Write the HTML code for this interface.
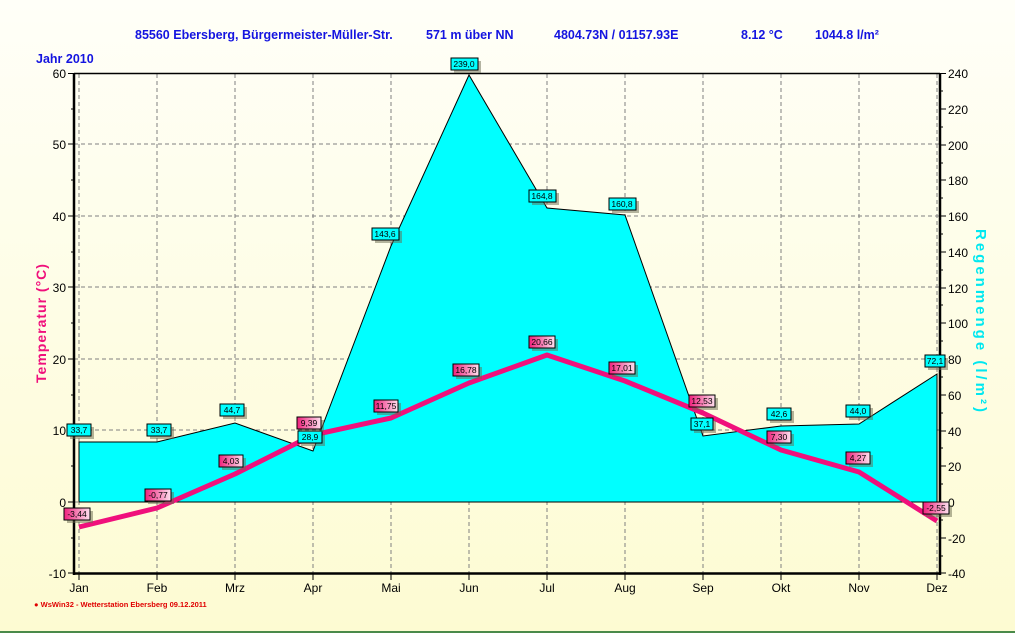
<!DOCTYPE html>
<html><head><meta charset="utf-8"><style>
html,body{margin:0;padding:0;}
body{width:1015px;height:633px;overflow:hidden;font-family:"Liberation Sans",sans-serif;}
</style></head><body>
<svg width="1015" height="633" xmlns="http://www.w3.org/2000/svg" font-family="Liberation Sans, sans-serif">
<defs>
<linearGradient id="bg" x1="0" y1="0" x2="0" y2="1"><stop offset="0" stop-color="#fffff8"/><stop offset="1" stop-color="#fdfbd2"/></linearGradient>
<linearGradient id="pk" x1="0" y1="0" x2="1" y2="0"><stop offset="0" stop-color="#f0207c"/><stop offset="1" stop-color="#fde0ee"/></linearGradient>
</defs>
<rect width="1015" height="633" fill="url(#bg)"/>
<rect x="0" y="631" width="1015" height="2" fill="#4a8a4a"/>
<g font-weight="bold" fill="#1414e0" font-size="12.5">
<text x="135" y="39">85560 Ebersberg, Bürgermeister-Müller-Str.</text>
<text x="426" y="39">571 m über NN</text>
<text x="554" y="39">4804.73N / 01157.93E</text>
<text x="741" y="39">8.12 °C</text>
<text x="815" y="39">1044.8 l/m²</text>
<text x="36" y="63">Jahr  2010</text>
</g>
<g stroke="#808080" stroke-dasharray="4,3" stroke-width="1">
<line x1="74" y1="144" x2="940" y2="144"/><line x1="74" y1="216" x2="940" y2="216"/>
<line x1="74" y1="287" x2="940" y2="287"/><line x1="74" y1="359" x2="940" y2="359"/>
<line x1="74" y1="430" x2="940" y2="430"/><line x1="74" y1="502" x2="940" y2="502"/>
<line x1="79" y1="74" x2="79" y2="580"/><line x1="157" y1="74" x2="157" y2="580"/><line x1="235" y1="74" x2="235" y2="580"/><line x1="313" y1="74" x2="313" y2="580"/><line x1="391" y1="74" x2="391" y2="580"/><line x1="469" y1="74" x2="469" y2="580"/><line x1="547" y1="74" x2="547" y2="580"/><line x1="625" y1="74" x2="625" y2="580"/><line x1="703" y1="74" x2="703" y2="580"/><line x1="781" y1="74" x2="781" y2="580"/><line x1="859" y1="74" x2="859" y2="580"/><line x1="937" y1="74" x2="937" y2="580"/>
</g>
<polygon points="79,502 79,442 157,442 235,423 313,451 391,246 469,75 547,208 625,215 703,436 781,426 859,424 937,374 937,502" fill="#00ffff" stroke="#000" stroke-width="1"/>
<g stroke="#000">
<line x1="74" y1="73.5" x2="940" y2="73.5" stroke-width="1.5"/>
<line x1="74" y1="573.5" x2="940" y2="573.5" stroke-width="2.5"/>
<line x1="74" y1="73" x2="74" y2="575" stroke-width="2.5"/>
<line x1="940" y1="73" x2="940" y2="575" stroke-width="2.5"/>
</g>
<g stroke="#000" stroke-width="1">
<path d="M68 73.5h6M68 144h6M68 216h6M68 287h6M68 359h6M68 430h6M68 502h6M68 573h6M71 109h3M71 180h3M71 252h3M71 323h3M71 395h3M71 466h3M71 538h3"/>
<path d="M940 73.5h6M940 109h6M940 145h6M940 180h6M940 216h6M940 252h6M940 288h6M940 323h6M940 359h6M940 395h6M940 431h6M940 466h6M940 502h6M940 538h6M940 573h6M940 91h3M940 127h3M940 163h3M940 198h3M940 234h3M940 270h3M940 305h3M940 341h3M940 377h3M940 413h3M940 448h3M940 484h3M940 520h3M940 556h3"/>
<path d="M79 574v6M157 574v6M235 574v6M313 574v6M391 574v6M469 574v6M547 574v6M625 574v6M703 574v6M781 574v6M859 574v6M937 574v6"/>
</g>
<g font-size="12" fill="#000" text-anchor="end">
<text x="66" y="78">60</text><text x="66" y="149">50</text><text x="66" y="221">40</text><text x="66" y="292">30</text><text x="66" y="364">20</text><text x="66" y="435">10</text><text x="66" y="507">0</text><text x="66" y="578">-10</text>
</g>
<g font-size="12" fill="#000">
<text x="948" y="78">240</text><text x="948" y="114">220</text><text x="948" y="150">200</text><text x="948" y="185">180</text><text x="948" y="221">160</text><text x="948" y="257">140</text><text x="948" y="293">120</text><text x="948" y="328">100</text><text x="948" y="364">80</text><text x="948" y="400">60</text><text x="948" y="436">40</text><text x="948" y="471">20</text><text x="948" y="507">0</text><text x="948" y="543">-20</text><text x="948" y="578">-40</text>
</g>
<g font-size="12" fill="#000" text-anchor="middle">
<text x="79" y="592">Jan</text><text x="157" y="592">Feb</text><text x="235" y="592">Mrz</text><text x="313" y="592">Apr</text><text x="391" y="592">Mai</text><text x="469" y="592">Jun</text><text x="547" y="592">Jul</text><text x="625" y="592">Aug</text><text x="703" y="592">Sep</text><text x="781" y="592">Okt</text><text x="859" y="592">Nov</text><text x="937" y="592">Dez</text>
</g>
<text x="34" y="607" font-size="7.5" fill="#e00000" font-weight="bold">● WsWin32  -  Wetterstation Ebersberg  09.12.2011</text>
<text transform="translate(46,323) rotate(-90)" font-size="14" font-weight="bold" fill="#f0107c" text-anchor="middle" letter-spacing="1">Temperatur  (°C)</text>
<text transform="translate(976,322) rotate(90)" font-size="15" font-weight="bold" fill="#00e8f0" text-anchor="middle" letter-spacing="3">Regenmenge  (l/m²)</text>
<polyline points="79,527 157,508 235,474 313,435 391,418 469,383 547,355 625,381 703,413 781,450 859,472 937,521" fill="none" stroke="#f0107c" stroke-width="5" stroke-linejoin="round"/>
<g font-size="8.5" text-anchor="middle" fill="#000">
<g>
<rect x="70" y="427" width="24" height="12" fill="#6a6a50" opacity=".5"/><rect x="67" y="424" width="24" height="12" fill="#00ffff" stroke="#000"/><text x="79" y="433">33,7</text>
<rect x="150" y="427" width="24" height="12" fill="#6a6a50" opacity=".5"/><rect x="147" y="424" width="24" height="12" fill="#00ffff" stroke="#000"/><text x="159" y="433">33,7</text>
<rect x="223" y="407" width="24" height="12" fill="#6a6a50" opacity=".5"/><rect x="220" y="404" width="24" height="12" fill="#00ffff" stroke="#000"/><text x="232" y="413">44,7</text>
<rect x="301" y="434" width="24" height="12" fill="#6a6a50" opacity=".5"/><rect x="298" y="431" width="24" height="12" fill="#00ffff" stroke="#000"/><text x="310" y="440">28,9</text>
<rect x="375" y="231" width="27" height="12" fill="#6a6a50" opacity=".5"/><rect x="372" y="228" width="27" height="12" fill="#00ffff" stroke="#000"/><text x="385" y="237">143,6</text>
<rect x="454" y="61" width="27" height="12" fill="#6a6a50" opacity=".5"/><rect x="451" y="58" width="27" height="12" fill="#00ffff" stroke="#000"/><text x="464" y="67">239,0</text>
<rect x="532" y="193" width="27" height="12" fill="#6a6a50" opacity=".5"/><rect x="529" y="190" width="27" height="12" fill="#00ffff" stroke="#000"/><text x="542" y="199">164,8</text>
<rect x="612" y="201" width="27" height="12" fill="#6a6a50" opacity=".5"/><rect x="609" y="198" width="27" height="12" fill="#00ffff" stroke="#000"/><text x="622" y="207">160,8</text>
<rect x="694" y="421" width="22" height="12" fill="#6a6a50" opacity=".5"/><rect x="691" y="418" width="22" height="12" fill="#00ffff" stroke="#000"/><text x="702" y="427">37,1</text>
<rect x="770" y="411" width="24" height="12" fill="#6a6a50" opacity=".5"/><rect x="767" y="408" width="24" height="12" fill="#00ffff" stroke="#000"/><text x="779" y="417">42,6</text>
<rect x="849" y="408" width="24" height="12" fill="#6a6a50" opacity=".5"/><rect x="846" y="405" width="24" height="12" fill="#00ffff" stroke="#000"/><text x="858" y="414">44,0</text>
<rect x="928" y="358" width="20" height="12" fill="#6a6a50" opacity=".5"/><rect x="925" y="355" width="20" height="12" fill="#00ffff" stroke="#000"/><text x="935" y="364">72,1</text>
</g>
<g>
<rect x="67" y="511" width="26" height="12" fill="#6a6a50" opacity=".5"/><rect x="64" y="508" width="26" height="12" fill="url(#pk)" stroke="#000"/><text x="77" y="517">-3,44</text>
<rect x="148" y="492" width="26" height="12" fill="#6a6a50" opacity=".5"/><rect x="145" y="489" width="26" height="12" fill="url(#pk)" stroke="#000"/><text x="158" y="498">-0,77</text>
<rect x="222" y="458" width="24" height="12" fill="#6a6a50" opacity=".5"/><rect x="219" y="455" width="24" height="12" fill="url(#pk)" stroke="#000"/><text x="231" y="464">4,03</text>
<rect x="300" y="420" width="24" height="12" fill="#6a6a50" opacity=".5"/><rect x="297" y="417" width="24" height="12" fill="url(#pk)" stroke="#000"/><text x="309" y="426">9,39</text>
<rect x="377" y="403" width="24" height="12" fill="#6a6a50" opacity=".5"/><rect x="374" y="400" width="24" height="12" fill="url(#pk)" stroke="#000"/><text x="386" y="409">11,75</text>
<rect x="456" y="367" width="26" height="12" fill="#6a6a50" opacity=".5"/><rect x="453" y="364" width="26" height="12" fill="url(#pk)" stroke="#000"/><text x="466" y="373">16,78</text>
<rect x="532" y="339" width="26" height="12" fill="#6a6a50" opacity=".5"/><rect x="529" y="336" width="26" height="12" fill="url(#pk)" stroke="#000"/><text x="542" y="345">20,66</text>
<rect x="612" y="365" width="26" height="12" fill="#6a6a50" opacity=".5"/><rect x="609" y="362" width="26" height="12" fill="url(#pk)" stroke="#000"/><text x="622" y="371">17,01</text>
<rect x="692" y="398" width="26" height="12" fill="#6a6a50" opacity=".5"/><rect x="689" y="395" width="26" height="12" fill="url(#pk)" stroke="#000"/><text x="702" y="404">12,53</text>
<rect x="770" y="434" width="24" height="12" fill="#6a6a50" opacity=".5"/><rect x="767" y="431" width="24" height="12" fill="url(#pk)" stroke="#000"/><text x="779" y="440">7,30</text>
<rect x="849" y="455" width="24" height="12" fill="#6a6a50" opacity=".5"/><rect x="846" y="452" width="24" height="12" fill="url(#pk)" stroke="#000"/><text x="858" y="461">4,27</text>
<rect x="926" y="505" width="26" height="12" fill="#6a6a50" opacity=".5"/><rect x="923" y="502" width="26" height="12" fill="url(#pk)" stroke="#000"/><text x="936" y="511">-2,55</text>
</g>
</g>
</svg>
</body></html>
